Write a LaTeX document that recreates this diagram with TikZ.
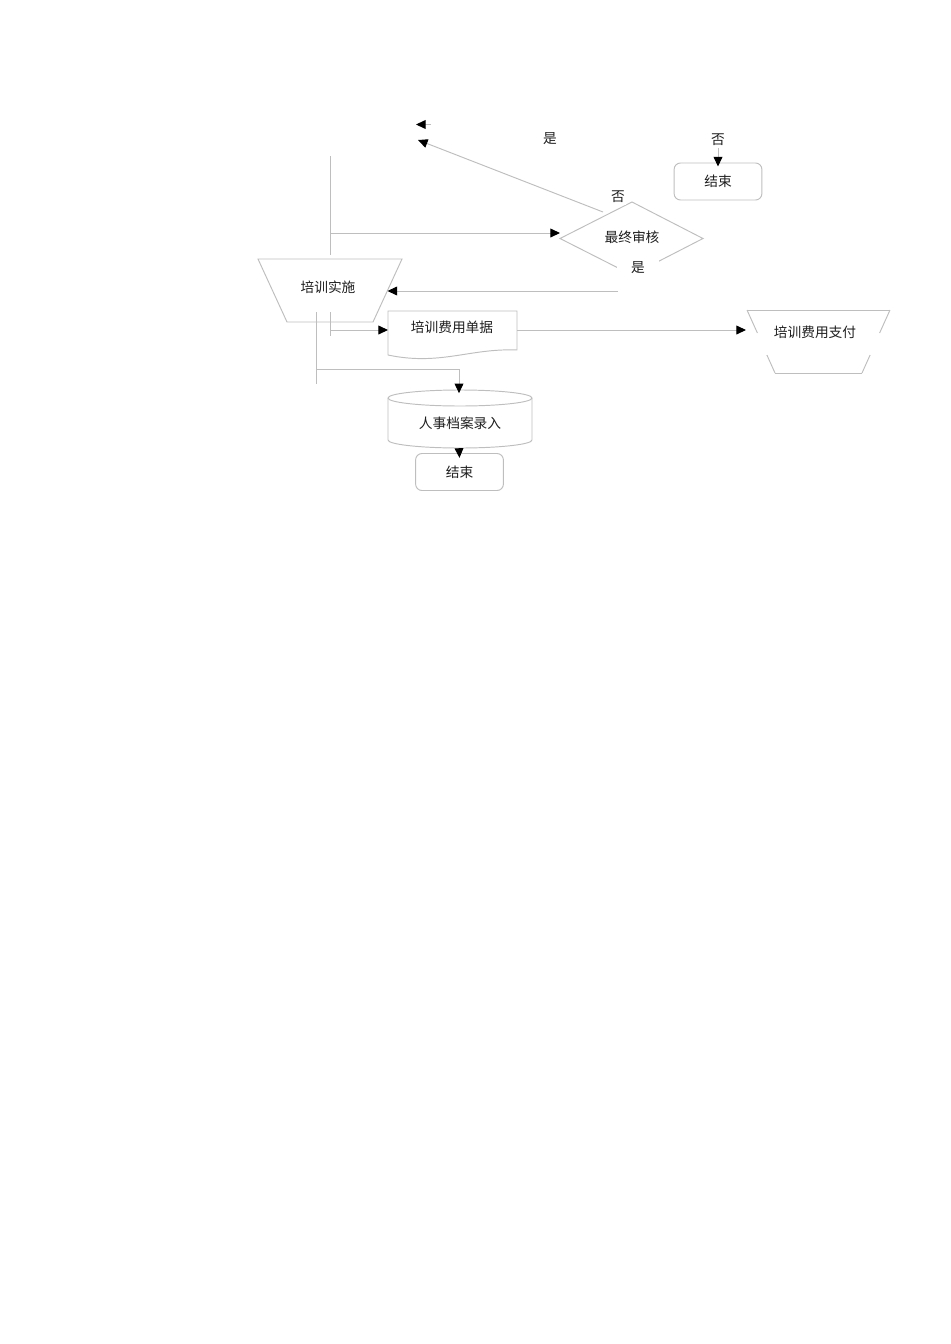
\documentclass[tikz,border=0pt]{standalone}
\usepackage{fontspec}
\newfontfamily\cjk{Noto Sans CJK SC}
\usetikzlibrary{arrows.meta}
\definecolor{lc}{RGB}{190,190,190}
\definecolor{tc}{RGB}{30,30,30}
\begin{document}
\begin{tikzpicture}[x=0.62667pt,y=-0.62667pt,
  line/.style={draw=lc,line width=0.6pt},
  arr/.style={line,-{Triangle[length=6pt,width=5.5pt,color=black,fill=black]}},
  lbl/.style={font=\cjk\fontsize{8.6}{10}\selectfont,text=tc,inner sep=1pt},
  wlbl/.style={lbl,fill=white},
  endbox/.style={lbl,draw=lc,line width=0.6pt,rounded corners=4pt,minimum width=55pt,minimum height=23.2pt}]
\useasboundingbox (0,0) rectangle (950,1344);

% upper vertical bus
\coordinate (ta) at (330,156);
\coordinate (tb) at (330,255);
\draw[line] (ta) -- (tb);
\coordinate (tj) at (330,233);

% decision diamond
\coordinate (dW) at (560,238.5);
\coordinate (dN) at (632,202);
\coordinate (dE) at (703,238.5);
\coordinate (dS) at (632,275);
\draw[line] (dW) -- (dN) -- (dE) -- (dS) -- cycle;
\node[lbl] (audit) at (632,237) {最终审核};
\draw[arr] (tj) -- (tj -| dW);

% labels on diamond
\node[wlbl] (no1) at (618,197) {否};
\node[wlbl,minimum width=26pt,minimum height=12pt] (yes1) at (638,268) {是};

% arrows to upper left
\coordinate (dUL) at (603,212);
\coordinate (p1) at (418,140);
\draw[arr] (dUL) -- (p1);
\coordinate (p2s) at (431,124.5);
\coordinate (p2) at (416,124.5);
\draw[arr] (p2s) -- (p2);

\node[lbl] (yes0) at (550,139) {是};
\node[lbl] (no0) at (718,140) {否};
\node[endbox] (end1) at (718,181.5) {结束};
\draw[arr] (no0.south) -- ([yshift=-2.5pt]end1.north);

% training implementation (trapezoid)
\coordinate (iTL) at (258,259);
\coordinate (iTR) at (402,259);
\coordinate (iBR) at (373,322);
\coordinate (iBL) at (287,322);
\draw[line] (iTL) -- (iTR) -- (iBR) -- (iBL) -- cycle;
\node[lbl] (impl) at (328,287) {培训实施};
\coordinate (r1) at (618,291);
\coordinate (iR) at (387.5,291);
\draw[arr] (r1) -- (iR);

% lower bus lines
\coordinate (l1a) at (316,312);
\coordinate (l1b) at (316,384);
\draw[line] (l1a) -- (l1b);
\coordinate (l2a) at (330,312);
\coordinate (l2b) at (330,336);
\draw[line] (l2a) -- (l2b);
\coordinate (l2j) at (330,330);
\coordinate (l1j) at (316,369);

% document shape
\coordinate (docW) at (388,330);
\coordinate (docE) at (517,330);
\draw[line] (388,311) -- (517,311) -- (517,350)
  .. controls (470,348) and (440,366) .. (388,355) -- cycle;
\node[lbl] (doc) at (452,327) {培训费用单据};
\draw[arr] (l2j) -- (docW);

% payment (manual operation)
\coordinate (payW) at (746,330);
\draw[line] (747,310) -- (890,310);
\draw[line] (775,373) -- (862,373);
\draw[line] (747,310) -- (757.4,333);
\draw[line] (766.9,355) -- (775,373);
\draw[line] (890,310) -- (879.6,333);
\draw[line] (870.1,355) -- (862,373);
\node[lbl] (pay) at (815,332) {培训费用支付};
\draw[arr] (docE) -- (payW);

% cylinder
\coordinate (cT) at (459,390);
\coordinate (cB) at (459,448);
\draw[line] (388,398) -- (388,440) arc[start angle=180,end angle=0,x radius=72,y radius=8]
  -- (532,398);
\draw[line] (460,398) ellipse[x radius=72,y radius=8];
\node[lbl] (hr) at (460,423) {人事档案录入};
\draw[arr] (l1j) -| ([yshift=-2pt]cT);

% end box
\node[endbox] (end2) at (459.5,472) {结束};
\draw[arr] (cB) -- ([yshift=-3pt]end2.north);
\end{tikzpicture}
\end{document}
